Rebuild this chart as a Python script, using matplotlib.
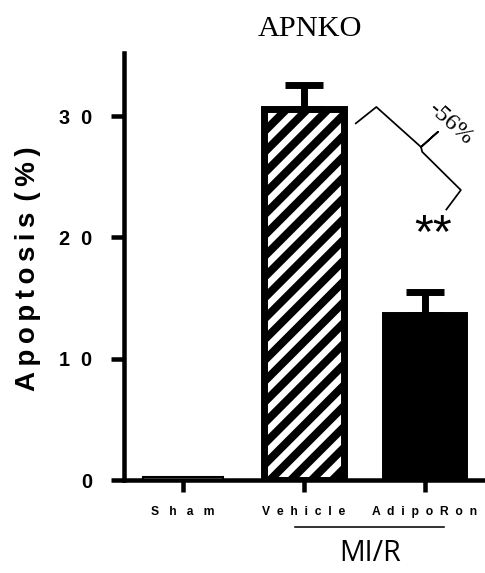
import numpy as np
import matplotlib
matplotlib.use('Agg')
import matplotlib.pyplot as plt
import matplotlib.transforms as mtransforms

groups = ['Sham', 'Vehicle', 'AdipoRon']
apoptosis = [0.25, 30.6, 13.6]
sem = [0.0, 2.0, 1.9]
yticks = [0, 10, 20, 30]
label_gaps = [3, 2, 2]

# brace for the -56% annotation (data coords)
brace_x = [1.43, 1.60, 1.97, 2.11, 1.97, 1.98, 2.30, 2.18]
brace_y = [29.4, 30.75, 27.45, 28.7, 27.45, 27.05, 23.9, 22.3]

plt.rcParams['hatch.linewidth'] = 4.6
plt.rcParams['font.family'] = ['Liberation Sans', 'DejaVu Sans']

DPI = 125
fig = plt.figure(figsize=(485 / DPI, 573 / DPI), dpi=DPI)
ax = fig.add_axes([0.2557, 0.1623, 0.7443, 0.7452])

x = np.arange(len(groups))
bars = ax.bar(x, apoptosis, width=0.66, color=['white', 'white', 'black'],
              edgecolor='black', linewidth=[1.2, 4, 4], zorder=2)
bars[1].set_hatch('//')
ax.errorbar(x[1:], apoptosis[1:], yerr=[np.zeros(2), sem[1:]], fmt='none',
            ecolor='black', elinewidth=4, capsize=11, capthick=4, zorder=1)

ax.set_xlim(-0.49, 2.5)
ax.set_ylim(0, 35.2)
for s in ['top', 'right']:
    ax.spines[s].set_visible(False)
for s in ['left', 'bottom']:
    ax.spines[s].set_linewidth(2.6)

ax.set_yticks(yticks)
ax.set_yticklabels(['  '.join(str(v)) for v in yticks], fontweight='bold', fontsize=11.5)
ax.set_xticks(x)
ax.set_xticklabels([(' ' * n).join(g) for g, n in zip(groups, label_gaps)],
                   fontweight='bold', fontsize=7)
ax.tick_params(axis='y', length=7.5, width=2.6, pad=11)
ax.tick_params(axis='x', length=7, width=2.6, pad=8)

fig.text(28 / 485, 1 - 269 / 573, '\u2009'.join('Apoptosis') + '\u2009\u2009(\u2009%\u2009)',
         rotation=90, ha='center', va='center', fontsize=16, fontweight='bold')

ax.set_title('APNKO', family='Liberation Serif', fontsize=17.5, x=0.515, pad=10)

# -56% brace and significance
ax.plot(brace_x, brace_y, color='black', lw=1.0, clip_on=False, zorder=3)
ax.text(2.21, 29.4, '-56%', family='Liberation Serif', fontsize=14,
        rotation=-42, ha='center', va='center')
ax.text(2.07, 20.2, '**', fontsize=28, ha='center', va='center')

# MI/R group line
trans = mtransforms.blended_transform_factory(ax.transData, ax.transAxes)
ax.plot([0.925, 2.16], [-0.11, -0.11], color='black', lw=0.9,
        transform=trans, clip_on=False)
ax.text(1.55, -0.171, 'MI/R', transform=trans, family='Open Sans',
        fontsize=16.5, ha='center', va='center')

fig.savefig('out.png', dpi=DPI)
